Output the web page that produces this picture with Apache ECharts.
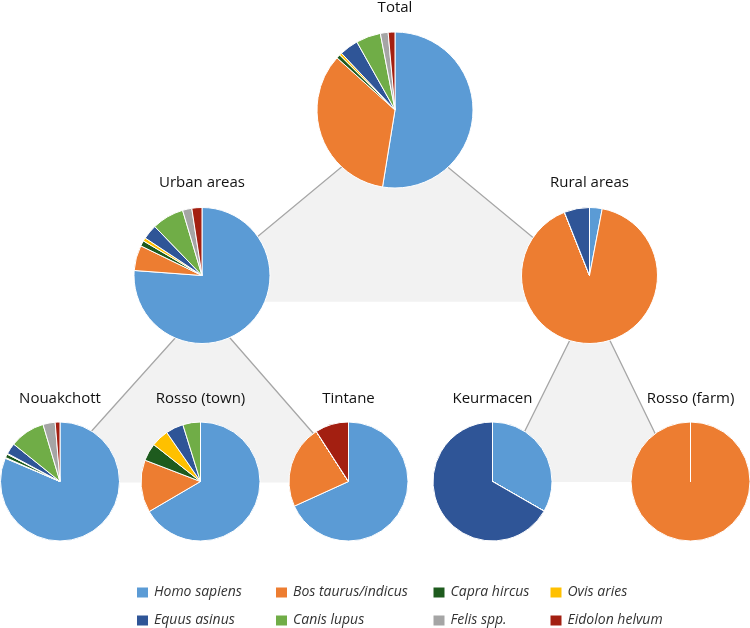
<!DOCTYPE html>
<html><head><meta charset="utf-8">
<script src="https://cdn.jsdelivr.net/npm/echarts@6/dist/echarts.min.js"></script>
<style>html,body{margin:0;padding:0;background:#fff}#c{width:750px;height:628px}</style>
</head><body><div id="c"></div>
<script>
const species = ['Homo sapiens','Bos taurus/indicus','Capra hircus','Ovis aries','Equus asinus','Canis lupus','Felis spp.','Eidolon helvum'];
const colors = ['#5b9bd5','#ed7d31','#1e5b1e','#ffc000','#2f5597','#70ad47','#a5a5a5','#a31f11'];
const siteNames = ['Total','Urban areas','Rural areas','Nouakchott','Rosso (town)','Tintane','Keurmacen','Rosso (farm)'];
// percent of each species, order as in `species`
const total      = [52.4, 34.0, 0.8, 0.5, 3.9, 5.1, 1.6, 1.4];
const urban      = [76.1, 6.0, 1.3, 0.8, 3.5, 7.6, 2.2, 2.4];
const rural      = [3.0, 91.0, 0, 0, 6.0, 0, 0, 0];
const nouakchott = [81.4, 0.2, 1.0, 0.2, 3.0, 9.6, 3.3, 1.3];
const rossoTown  = [66.7, 14.3, 4.8, 4.8, 4.8, 4.8, 0, 0];
const tintane    = [68.2, 22.7, 0, 0, 0, 0, 0, 9.1];
const keurmacen  = [33.3, 0, 0, 0, 66.7, 0, 0, 0];
const rossoFarm  = [0, 100, 0, 0, 0, 0, 0, 0];

const siteValues = [total, urban, rural, nouakchott, rossoTown, tintane, keurmacen, rossoFarm];
const layout = [
  {c:[395,110], r:78, ty:0},
  {c:[202,275.5], r:68, ty:175},
  {c:[589.5,275.5], r:68, ty:175},
  {c:[60,481.5], r:59.5, ty:391},
  {c:[200.5,481.5], r:59.5, ty:391},
  {c:[348.5,481.5], r:59.5, ty:391},
  {c:[492.5,481.5], r:59.5, ty:391},
  {c:[690.5,481.5], r:59.5, ty:391}
];

const chart = echarts.init(document.getElementById('c'), null, {renderer:'canvas'});
const font = '"Open Sans", "Noto Sans", sans-serif';

const titles = siteNames.map((n,i)=>({
  text:n, left:layout[i].c[0], top:layout[i].ty, textAlign:'center', padding:0,
  textStyle:{fontFamily:font, fontSize:15, fontWeight:'normal', color:'#111'}
}));

const series = siteValues.map((vals,i)=>({
  type:'pie', name:siteNames[i], center:layout[i].c, radius:[0, layout[i].r],
  startAngle:90, clockwise:true, silent:true, z:5,
  label:{show:false}, labelLine:{show:false},
  itemStyle:{borderColor:'#fff', borderWidth:1},
  emphasis:{disabled:true},
  data: vals.map((v,k)=>({name:species[k], value:v, itemStyle:{color:colors[k]}}))
}));

const cols = [[0,4],[1,5],[2,6],[3,7]];
const colLeft = [135, 274, 431.5, 548.5];
const legends = cols.map((idx,j)=>({
  orient:'vertical', left:colLeft[j], top:585.5, itemGap:14, padding:0,
  itemWidth:13, itemHeight:12, icon:'rect', selectedMode:false,
  data: idx.map(k=>species[k]),
  textStyle:{fontFamily:font, fontSize:14, fontStyle:'italic', color:'#333'}
}));

const fill = '#f2f2f2', stroke = '#a6a6a6';
function tri(a, b, c) {
  return [
    {type:'polygon', z:0, shape:{points:[a,b,c]}, style:{fill:fill, stroke:null}},
    {type:'polyline', z:1, shape:{points:[b,a,c]}, style:{fill:null, stroke:stroke, lineWidth:1.3}}
  ];
}
const graphics = [].concat(
  tri([394.5,123],[179,301.7],[610.7,301.7]),
  tri([203,307],[45.4,482.5],[356.2,482.5]),
  tri([590,299.5],[499.6,482],[678.7,482])
);

chart.setOption({
  animation:false,
  color: colors,
  title: titles,
  legend: legends,
  graphic: graphics,
  series: series
});
</script></body></html>
